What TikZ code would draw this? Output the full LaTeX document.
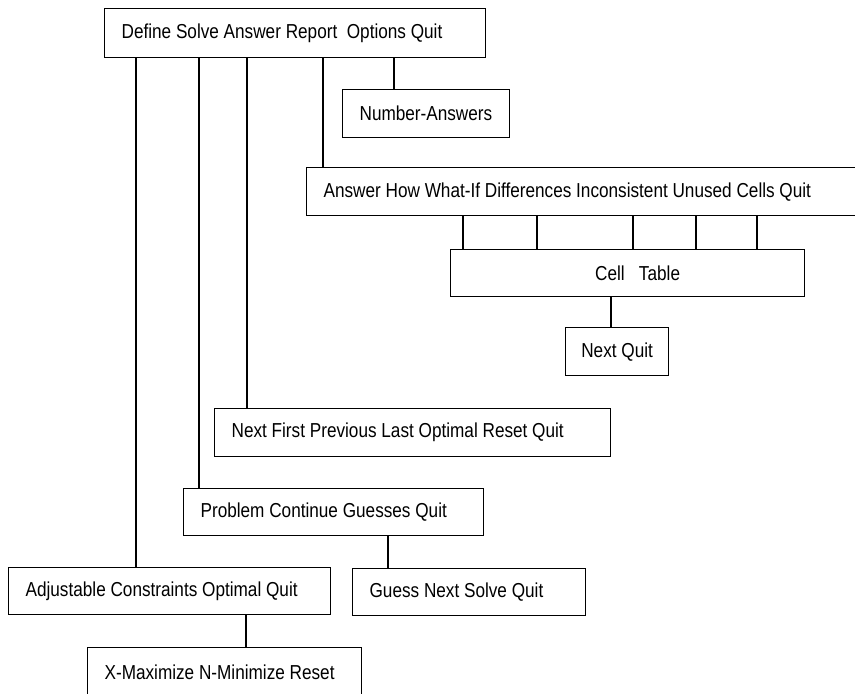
\documentclass[tikz,border=0pt]{standalone}
\usepackage{fontspec}
\setmainfont{Liberation Sans}[FakeStretch=0.85]
\usepackage{tikz}
\usetikzlibrary{positioning}

\tikzset{
  menubox/.style={draw, anchor=north west, line width=0.7pt, inner xsep=0.34cm, inner ysep=0pt, align=left,
    execute at begin node={\spaceskip=0pt\xspaceskip=0pt}},
  link/.style={line width=0.7pt}
}

\begin{document}
\begin{tikzpicture}[x=0.02cm, y=-0.02cm, font=\fontsize{11.5}{13}\selectfont]
\useasboundingbox (0,0) rectangle (855,693);

% top menu
\node[menubox, text width=6.94cm, minimum height=0.98cm] (menu) at (104,8) {Define Solve Answer Report\ \ Options Quit};
\node[menubox, text width=2.66cm, minimum height=0.96cm] (numans) at (342,89) {Number-Answers};

% answer menu
\node[menubox, text width=10.40cm, minimum height=0.96cm] (answer) at (306,167) {Answer How What-If Differences Inconsistent Unused Cells Quit};
\node[menubox, minimum width=7.08cm, minimum height=0.94cm, align=center] (cell) at (450,249) {\hspace*{0.4cm}Cell~~~Table};
\node[menubox, minimum width=2.06cm, minimum height=0.96cm, inner xsep=0.1cm, align=center] (nextq) at (565,327) {Next Quit};

% solve menus
\node[menubox, text width=7.24cm, minimum height=0.96cm] (browse) at (214,408) {Next First Previous Last Optimal Reset Quit};
\node[menubox, text width=5.32cm, minimum height=0.94cm] (problem) at (183,488) {Problem Continue Guesses Quit};
\node[menubox, text width=3.98cm, minimum height=0.94cm] (guess) at (352,568) {Guess Next Solve Quit};

% define menus
\node[menubox, text width=5.76cm, minimum height=0.94cm] (adjust) at (8,567) {Adjustable Constraints Optimal Quit};
\node[menubox, text width=4.80cm, minimum height=1.00cm] (xmax) at (87,647) {X-Maximize N-Minimize Reset};

% links from the top menu
\draw[link] (menu.south west) ++(32,0) coordinate (m1) -- (m1 |- adjust.north);
\draw[link] (menu.south west) ++(95,0) coordinate (m2) -- (m2 |- problem.north);
\draw[link] (menu.south west) ++(143,0) coordinate (m3) -- (m3 |- browse.north);
\draw[link] (menu.south west) ++(219,0) coordinate (m4) -- (m4 |- answer.north);
\draw[link] (menu.south west) ++(290,0) coordinate (m5) -- (m5 |- numans.north);

% links below
\foreach \dx [count=\i] in {157,231,327,390,451}
  \draw[link] (answer.south west) ++(\dx,0) coordinate (a\i) -- (a\i |- cell.north);
\draw[link] (cell.south west) ++(161,0) coordinate (c1) -- (c1 |- nextq.north);
\draw[link] (problem.south west) ++(205,0) coordinate (p1) -- (p1 |- guess.north);
\draw[link] (adjust.south west) ++(238,0) coordinate (d1) -- (d1 |- xmax.north);
\end{tikzpicture}
\end{document}
